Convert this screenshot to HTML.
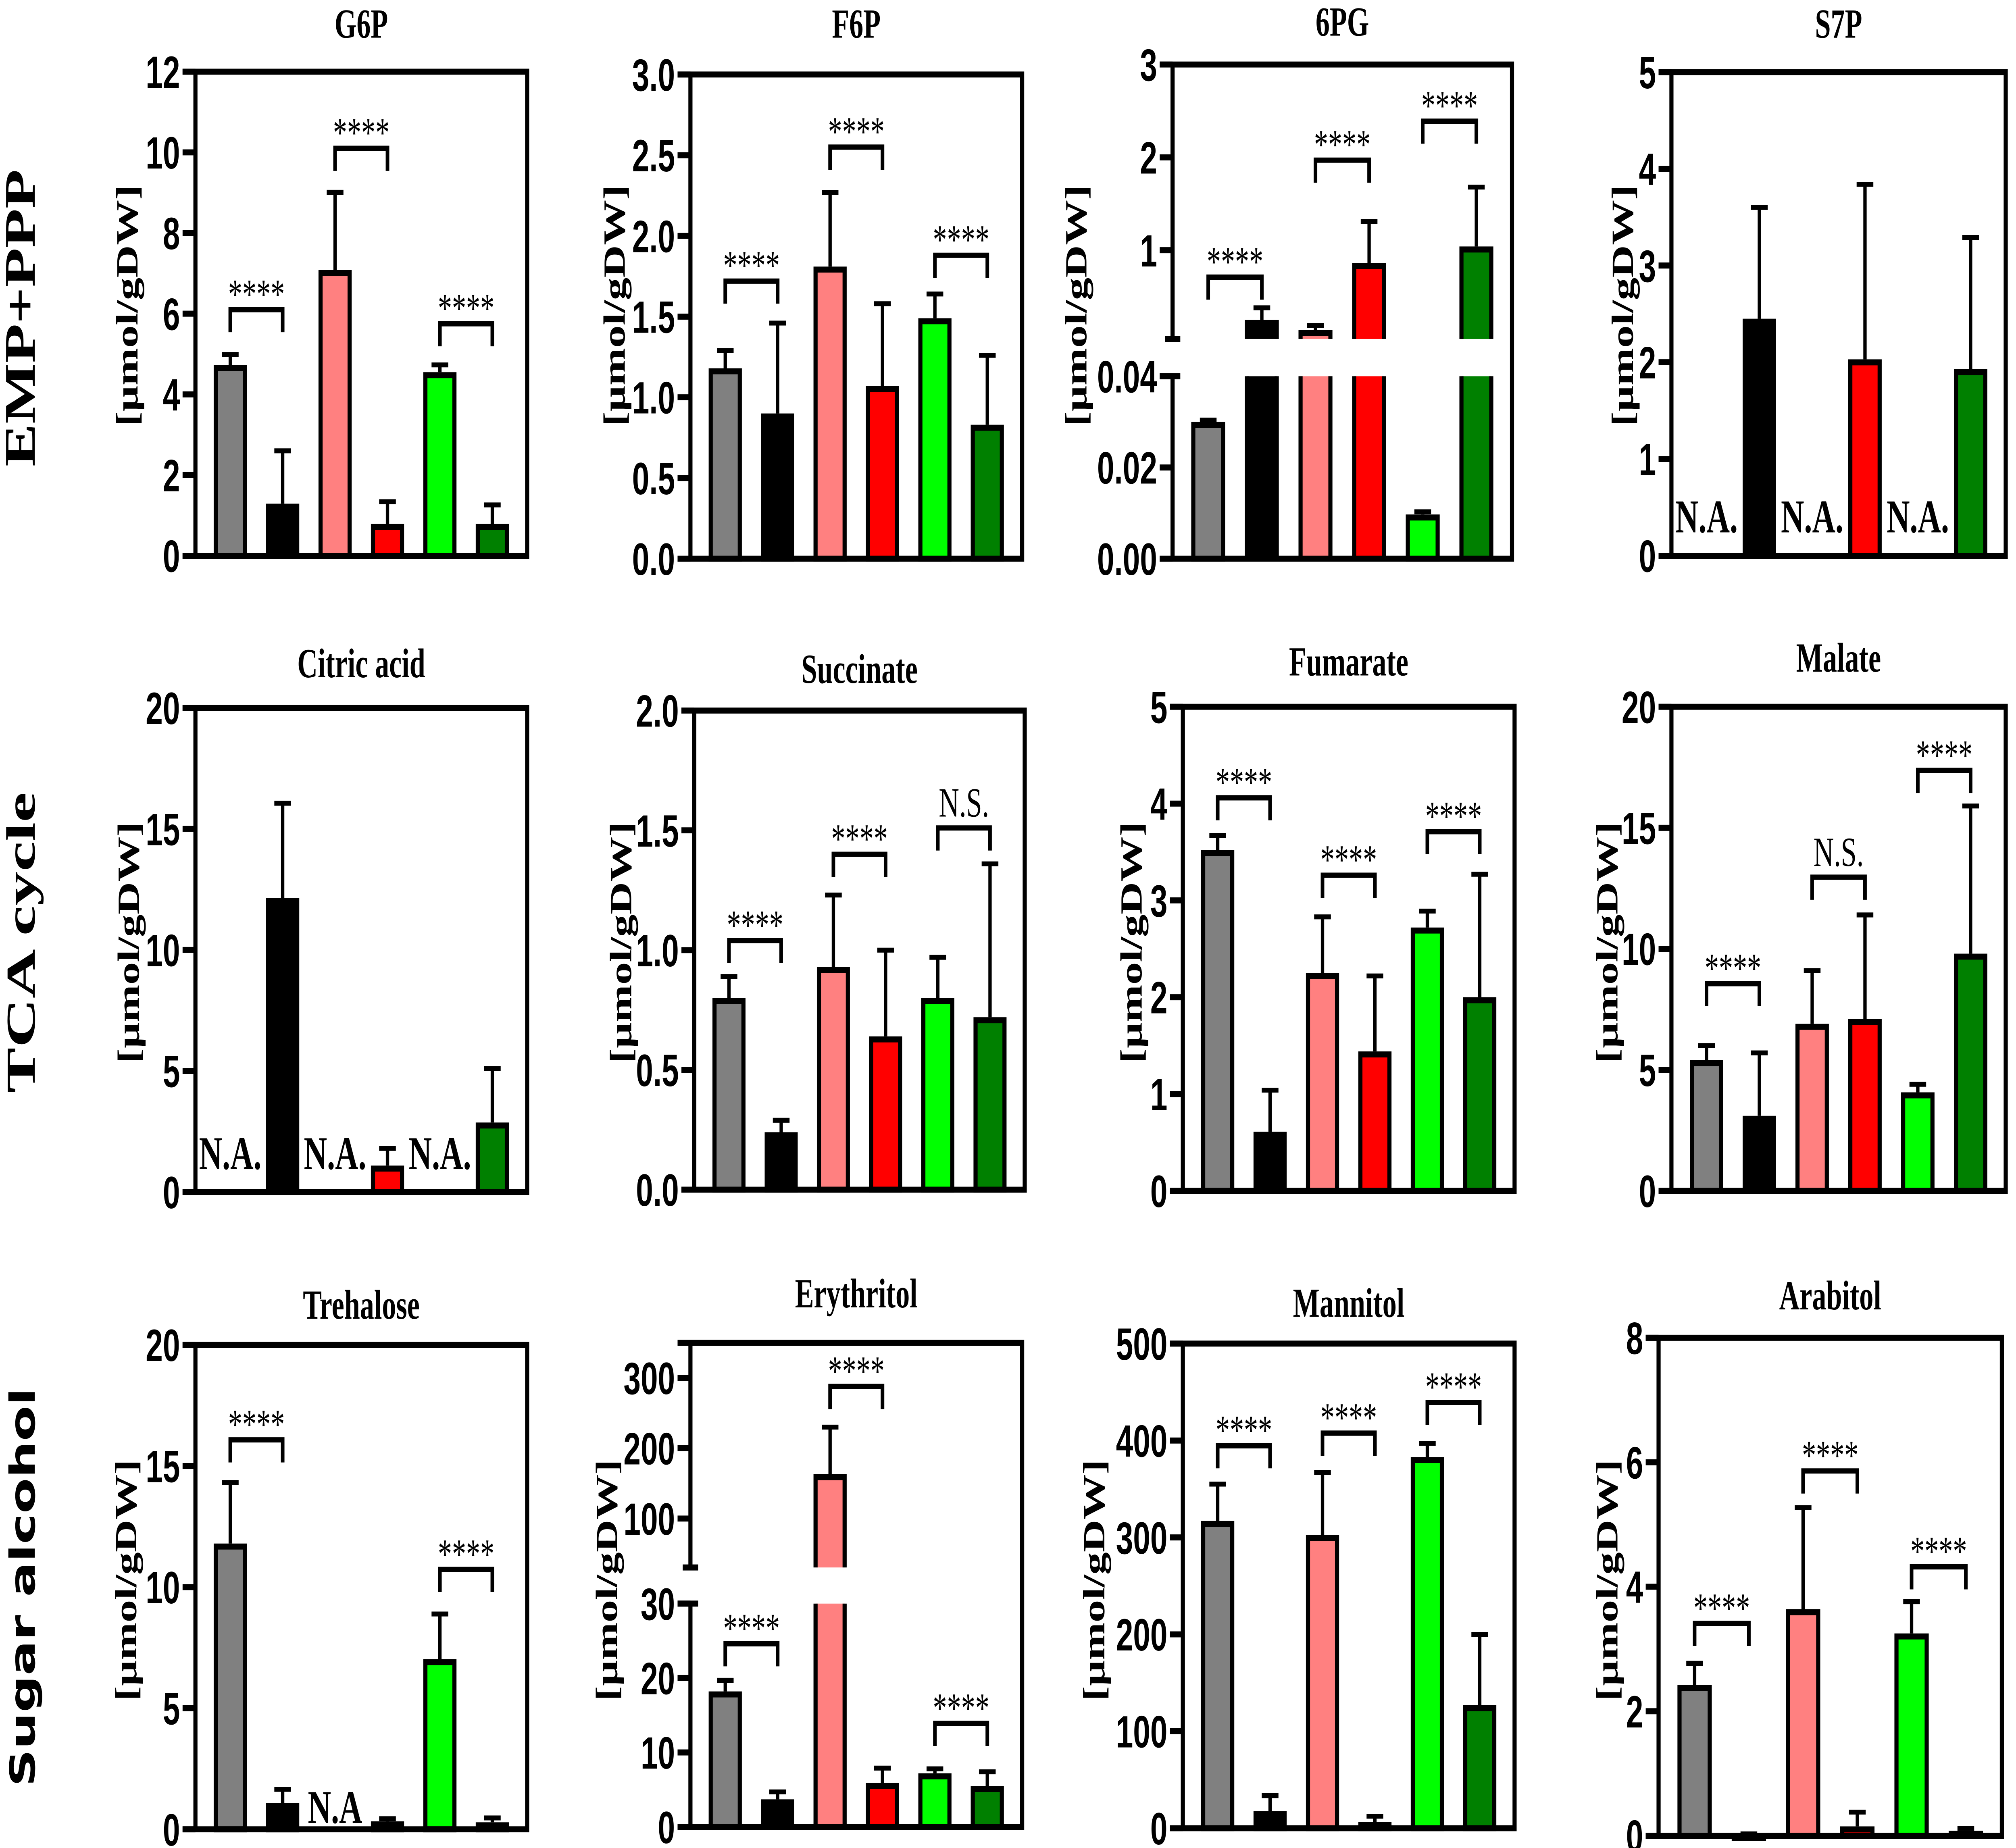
<!DOCTYPE html>
<html><head><meta charset="utf-8"><style>
html,body{margin:0;padding:0;background:#fff;width:5000px;height:4584px;overflow:hidden;}
svg{display:block;}
</style></head><body>
<svg id="root" xmlns="http://www.w3.org/2000/svg" width="5000" height="4584">
<rect x="0" y="0" width="5000" height="4584" fill="#fff"/>
<g id="fig" transform="scale(3.18878,4.6665)"></g>
</svg>
<script>
// ---- data ----
const barGroups = ['ctrl-1','treat-1','ctrl-2','treat-2','ctrl-3','treat-3'];
const barColors = ['#808080','#000000','#ff8080','#ff0000','#00ff00','#008000'];

const g6pMean = [4.73,1.29,7.09,0.79,4.55,0.79];
const g6pSd   = [0.26,1.31,1.92,0.55,0.18,0.47];
const g6pTicks = [0,2,4,6,8,10,12];
const g6pSig = [[0,1,6.1,'****'],[2,3,10.1,'****'],[4,5,5.75,'****']];

const f6pMean = [1.18,0.90,1.81,1.07,1.49,0.83];
const f6pSd   = [0.11,0.56,0.46,0.51,0.15,0.43];
const f6pTicks = [0,0.5,1.0,1.5,2.0,2.5,3.0];
const f6pTickLabels = ['0.0','0.5','1.0','1.5','2.0','2.5','3.0'];
const f6pSig = [[0,1,1.72,'****'],[2,3,2.55,'****'],[4,5,1.88,'****']];

const pg6Mean = [0.030,0.25,0.14,0.86,0.0097,1.04];
const pg6Sd   = [0.0004,0.13,0.05,0.45,0.0006,0.64];
const pg6TicksLow = [0,0.02,0.04];
const pg6TickLabelsLow = ['0.00','0.02','0.04'];
const pg6TicksUp = [1,2,3];
const pg6Sig = [[0,1,0.71,'****'],[2,3,1.97,'****'],[4,5,2.39,'****']];

const s7pMean = [null,2.45,null,2.03,null,1.93];
const s7pSd   = [0,1.15,0,1.81,0,1.36];
const s7pTicks = [0,1,2,3,4,5];

const citMean = [null,12.15,null,1.09,null,2.87];
const citSd   = [0,3.91,0,0.71,0,2.23];
const citTicks = [0,5,10,15,20];

const sucMean = [0.80,0.24,0.93,0.64,0.80,0.72];
const sucSd   = [0.09,0.05,0.30,0.36,0.17,0.64];
const sucTicks = [0,0.5,1.0,1.5,2.0];
const sucTickLabels = ['0.0','0.5','1.0','1.5','2.0'];
const sucSig = [[0,1,1.04,'****'],[2,3,1.40,'****'],[4,5,1.51,'N.S.']];

const fumMean = [3.52,0.61,2.25,1.44,2.72,2.0];
const fumSd   = [0.15,0.43,0.58,0.78,0.17,1.27];
const fumTicks = [0,1,2,3,4,5];
const fumSig = [[0,1,4.06,'****'],[2,3,3.26,'****'],[4,5,3.71,'****']];

const malMean = [5.4,3.1,6.9,7.1,4.07,9.8];
const malSd   = [0.6,2.6,2.2,4.3,0.33,6.1];
const malTicks = [0,5,10,15,20];
const malSig = [[0,1,8.56,'****'],[2,3,12.96,'N.S.'],[4,5,17.37,'****']];

const treMean = [11.8,1.08,null,0.33,7.03,0.29];
const treSd   = [2.52,0.57,0,0.11,1.86,0.18];
const treTicks = [0,5,10,15,20];
const treSig = [[0,1,16.08,'****'],[4,5,10.73,'****']];

const eryMean = [18.2,3.7,163,5.9,7.2,5.5];
const erySd   = [1.5,1.0,67,2.0,0.6,1.9];
const eryTicksLow = [0,10,20,30];
const eryTicksUp = [100,200,300];
const erySig = [[0,1,24.6,'****'],[2,3,287.7,'****'],[4,5,13.9,'****']];

const manMean = [317,17.7,302.6,6.4,383,127];
const manSd   = [38,15.9,64.4,6,14,73];
const manTicks = [0,100,200,300,400,500];
const manSig = [[0,1,394.6,'****'],[2,3,407.6,'****'],[4,5,439.4,'****']];

const araMean = [2.42,0.03,3.64,0.15,3.25,0.08];
const araSd   = [0.35,0,1.63,0.23,0.51,0.04];
const araTicks = [0,2,4,6,8];
const araSig = [[0,1,3.41,'****'],[2,3,5.86,'****'],[4,5,4.32,'****']];

// ---- layout (positions only) ----
const panels = [
 {key:'g6p',title:'G6P',x0:152,x1:410,y0:295.4,yTop:38.1,max:12,ticks:g6pTicks,mean:g6pMean,sd:g6pSd,sig:g6pSig,tY:20,ytX:99,ytY:162.5,na:'N.A.',naY:283},
 {key:'f6p',title:'F6P',x0:537,x1:795,y0:297,yTop:39.6,max:3,ticks:f6pTicks,tickLabels:f6pTickLabels,mean:f6pMean,sd:f6pSd,sig:f6pSig,tY:20,ytX:478,ytY:162.5},
 {key:'pg6',title:'6PG',x0:912,x1:1176,y0:297,yTop:34.3,mean:pg6Mean,sd:pg6Sd,sig:pg6Sig,tY:19,ytX:837,ytY:162.5,
   brk:{lowMax:0.04,lowTopY:200,upRef:1,upRefY:133,upK:49.35,upBotY:180.2,ticksLow:pg6TicksLow,labelsLow:pg6TickLabelsLow,ticksUp:pg6TicksUp}},
 {key:'s7p',title:'S7P',x0:1300,x1:1560,y0:295.4,yTop:38.3,max:5,ticks:s7pTicks,mean:s7pMean,sd:s7pSd,sig:[],tY:20,ytX:1262,ytY:162.5,na:'N.A.',naY:283},
 {key:'cit',title:'Citric acid',x0:152,x1:410,y0:633.6,yTop:376.3,max:20,ticks:citTicks,mean:citMean,sd:citSd,sig:[],tY:360,ytX:100,ytY:501,na:'N.A.',naY:621.5},
 {key:'suc',title:'Succinate',x0:540,x1:797,y0:632.4,yTop:377.7,max:2,ticks:sucTicks,tickLabels:sucTickLabels,mean:sucMean,sd:sucSd,sig:sucSig,tY:363,ytX:483,ytY:501},
 {key:'fum',title:'Fumarate',x0:920,x1:1178,y0:633,yTop:375.7,max:5,ticks:fumTicks,mean:fumMean,sd:fumSd,sig:fumSig,tY:359,ytX:880,ytY:501},
 {key:'mal',title:'Malate',x0:1300,x1:1560,y0:633,yTop:375.7,max:20,ticks:malTicks,mean:malMean,sd:malSd,sig:malSig,tY:357,ytX:1250,ytY:501},
 {key:'tre',title:'Trehalose',x0:152,x1:410,y0:972.4,yTop:714.9,max:20,ticks:treTicks,mean:treMean,sd:treSd,sig:treSig,tY:701,ytX:98,ytY:840,na:'N.A',naY:969},
 {key:'ery',title:'Erythritol',x0:537,x1:795,y0:971.1,yTop:713.8,mean:eryMean,sd:erySd,sig:erySig,tY:695,ytX:472,ytY:840,
   brk:{lowMax:30,lowTopY:852.4,upRef:100,upRefY:807.2,upK:0.374,upBotY:833.2,ticksLow:eryTicksLow,ticksUp:eryTicksUp}},
 {key:'man',title:'Mannitol',x0:920,x1:1178,y0:971.8,yTop:714.2,max:500,ticks:manTicks,mean:manMean,sd:manSd,sig:manSig,tY:700,ytX:851,ytY:840},
 {key:'ara',title:'Arabitol',x0:1290,x1:1557,y0:975.8,yTop:711.1,max:8,ticks:araTicks,mean:araMean,sd:araSd,sig:araSig,tY:696,ytX:1250,ytY:840}
];

const NS='http://www.w3.org/2000/svg';
const svg=document.getElementById('fig');
function mk(tag,attrs,parent){const e=document.createElementNS(NS,tag);for(const k in attrs)e.setAttribute(k,attrs[k]);(parent||svg).appendChild(e);return e;}

const SW=3.2;
const tickFont='font-family:"Liberation Sans",Arial,sans-serif;font-weight:bold;font-size:24px;';
const serif='"Liberation Serif","Times New Roman",serif';

[['EMP+PPP',169,158,serif,34,'row-label-emp-ppp'],['TCA cycle',501,160,serif,32,'row-label-tca-cycle'],['Sugar alcohol',843.7,212,'"DejaVu Sans",sans-serif',27,'row-label-sugar-alcohol']].forEach(r=>{
  const t=mk('text',{x:0,y:0,transform:`translate(27,${r[1]}) rotate(-90)`,'text-anchor':'middle',textLength:r[2],lengthAdjust:'spacingAndGlyphs',style:`font-family:${r[3]};font-weight:bold;font-size:${r[4]}px;`});
  t.textContent=r[0];
  
  
});

panels.forEach(p=>{
  const g=mk('g',{});
  
  
  const W=p.x1-p.x0;
  let y;
  if(p.brk){const b=p.brk;y=v=>v<=b.lowMax? p.y0-v/b.lowMax*(p.y0-b.lowTopY) : b.upRefY-(v-b.upRef)*b.upK;}
  else y=v=>p.y0-v/p.max*(p.y0-p.yTop);
  const cx=i=>p.x0+W*(0.105+0.158*i);
  const bw=W*0.1;

  const tt=mk('text',{x:(p.x0+p.x1)/2,y:p.tY,'text-anchor':'middle',style:`font-family:${serif};font-weight:bold;font-size:22px;`},g);
  tt.textContent=p.title;
  
  
  const yt=mk('text',{x:0,y:0,transform:`translate(${p.ytX+8},${p.ytY}) rotate(-90)`,'text-anchor':'middle',style:`font-family:${serif};font-weight:bold;font-size:24px;`},g);
  yt.textContent='[\u00B5mol/gDW]';
  
  

  p.mean.forEach((m,i)=>{
    const c=cx(i);
    if(m===null){
      const na=mk('text',{x:c,y:p.naY,'text-anchor':'middle',style:`font-family:${serif};font-weight:bold;font-size:25px;`},g);
      na.textContent=p.na;
      
      
      return;
    }
    const L=c-bw/2+SW/2,R=c+bw/2-SW/2;
    const bg=mk('g',{},g);
    
    
    const top=y(m);
    if(p.brk && m>p.brk.lowMax){
      const b=p.brk;
      mk('rect',{x:L,y:b.lowTopY,width:R-L,height:p.y0-b.lowTopY,fill:barColors[i]},bg);
      mk('path',{d:`M${L},${b.lowTopY}V${p.y0}M${R},${b.lowTopY}V${p.y0}`,stroke:'#000','stroke-width':SW,fill:'none'},bg);
      mk('rect',{x:L,y:top+SW/2,width:R-L,height:Math.max(0,b.upBotY-top-SW/2),fill:barColors[i]},bg);
      mk('path',{d:`M${L},${b.upBotY}V${top+SW/2}H${R}V${b.upBotY}`,stroke:'#000','stroke-width':SW,fill:'none'},bg);
    } else {
      mk('rect',{x:L,y:top+SW/2,width:R-L,height:Math.max(0.5,p.y0-top-SW/2),fill:barColors[i],stroke:'#000','stroke-width':SW},bg);
    }
    const et=y(m+p.sd[i]);
    const eb=mk('path',{d:`M${c},${top}V${et}M${c-6.5},${et}H${c+6.5}`,stroke:'#000','stroke-width':2.6,fill:'none'},g);
    
    
  });

  const ax=mk('g',{stroke:'#000','stroke-width':SW,fill:'none'},g);
  
  
  mk('path',{d:`M${p.x0-10},${p.yTop}H${p.x1}V${p.y0}H${p.x0-10}`},ax);
  const tl=mk('g',{style:tickFont,'text-anchor':'end'},g);
  
  
  const tick=(v,lab)=>{const ty=y(v);mk('path',{d:`M${p.x0-10},${ty}H${p.x0}`},ax);const t=mk('text',{x:p.x0-12,y:ty+8.6},tl);t.textContent=lab;};
  if(p.brk){
    const b=p.brk;
    mk('path',{d:`M${p.x0},${p.yTop}V${b.upBotY}M${p.x0-6},${b.upBotY}H${p.x0+6}`},ax);
    mk('path',{d:`M${p.x0},${b.lowTopY}V${p.y0}M${p.x0-10},${b.lowTopY}H${p.x0+6}`},ax);
    b.ticksLow.forEach((v,k)=>tick(v,b.labelsLow?b.labelsLow[k]:String(v)));
    b.ticksUp.forEach(v=>tick(v,String(v)));
  } else {
    mk('path',{d:`M${p.x0},${p.yTop}V${p.y0}`},ax);
    p.ticks.forEach((v,k)=>tick(v,p.tickLabels?p.tickLabels[k]:String(v)));
  }

  p.sig.forEach(s=>{
    const by=y(s[2]);const a=cx(s[0]),b=cx(s[1]);
    const sg=mk('g',{},g);
    
    
    mk('path',{d:`M${a},${by+12}V${by}H${b}V${by+12}`,stroke:'#000','stroke-width':2.8,fill:'none'},sg);
    const t=mk('text',{x:(a+b)/2,y:s[3]==='****'?by-1:by-6,'text-anchor':'middle',style:`font-family:${serif};font-size:22px;`},sg);
    t.textContent=s[3];
  });
});
</script>
</body></html>
